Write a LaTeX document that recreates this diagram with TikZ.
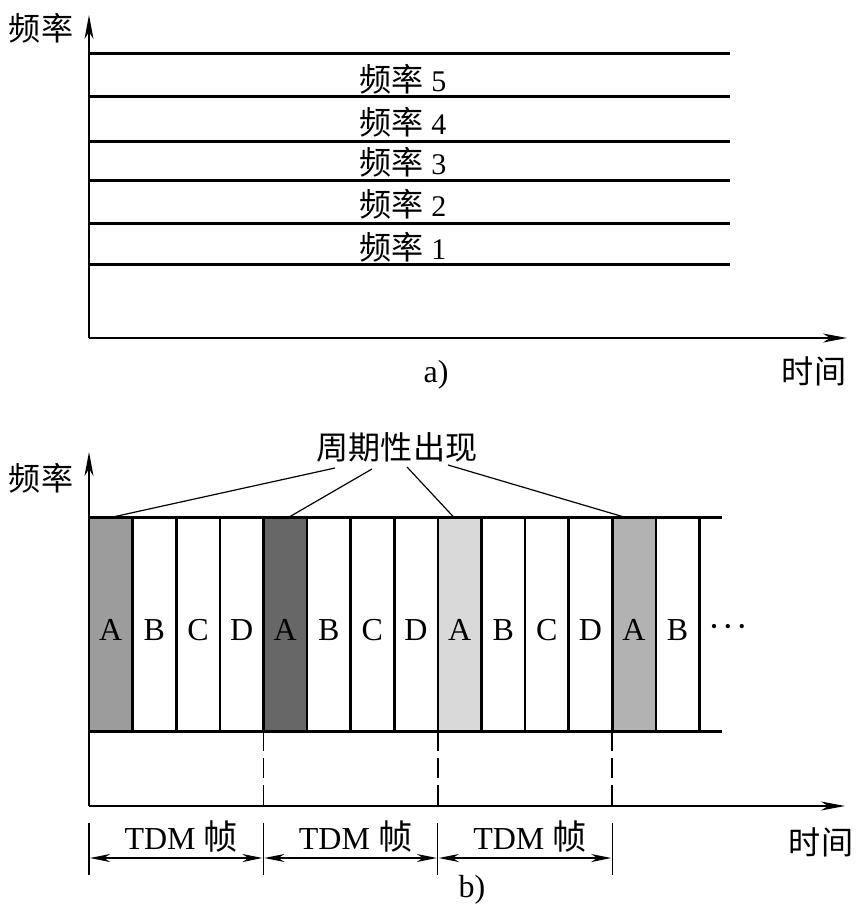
\documentclass[tikz,border=0pt]{standalone}
\usepackage{fontspec}
\setmainfont{Liberation Serif}
\newfontfamily\cjk{Noto Sans CJK SC}[Scale=1.07]
\usetikzlibrary{arrows.meta,calc}
\definecolor{gA}{HTML}{9C9C9C}
\definecolor{gB}{HTML}{676767}
\definecolor{gC}{HTML}{D9D9D9}
\definecolor{gD}{HTML}{B2B2B2}
\begin{document}
\begin{tikzpicture}[x=1pt,y=-1pt,
  every node/.style={inner sep=0pt,outer sep=0pt,font=\fontsize{30}{36}\selectfont},
  bigtext/.style={font=\fontsize{32}{38}\selectfont},
  bandline/.style={line width=3pt},
  sepline/.style={line width=2.6pt},
  axisline/.style={line width=1.4pt,-{Stealth[length=24pt,width=9pt,inset=7pt]}},
  dimarrow/.style={line width=1.4pt,{Stealth[length=20pt,width=8pt,inset=6pt]}-{Stealth[length=20pt,width=8pt,inset=6pt]}},
  tickline/.style={line width=1.2pt},
  callout/.style={line width=1.2pt},
  dashsep/.style={line width=1.6pt,dash pattern=on 20pt off 7pt},
  slot/.style={minimum width=43.6pt,minimum height=214pt,draw=none},
]
\useasboundingbox (0,0) rectangle (867,921);

% ---------- part a ----------
\coordinate (aO) at (89,338);
\coordinate (aY) at (89,15);
\coordinate (aX) at (847,338);
\draw[axisline] (aO) -- (aY);
\draw[axisline] (aO) -- (aX);
\foreach \y [count=\i] in {53,96,141,180,223,264} {
  \coordinate (L\i) at (89,\y);
  \coordinate (R\i) at (730,\y);
  \draw[bandline] (L\i) -- (R\i);
}
\node (f5) at (403,79)  {{\cjk 频率} 5};
\node (f4) at (403,122) {{\cjk 频率} 4};
\node (f3) at (403,162) {{\cjk 频率} 3};
\node (f2) at (403,204) {{\cjk 频率} 2};
\node (f1) at (403,247) {{\cjk 频率} 1};
\node (ya) at (41,28) {\cjk 频率};
\node (xa) at (814,371) {\cjk 时间};
\node[bigtext] (capa) at (436,375) {a)};

% ---------- part b ----------
\coordinate (bO) at (89,806);
\coordinate (bY) at (89,452);
\coordinate (bX) at (845,806);

\foreach \l/\c [count=\i from 0] in {A/gA,B/white,C/white,D/white,A/gB,B/white,C/white,D/white,A/gC,B/white,C/white,D/white,A/gD,B/white} {
  \node[slot,fill=\c] (s\i) at ({89+43.6*(\i+0.5)},624) {};
  \node[bigtext] (t\i) at ([yshift=-6pt]s\i.center) {\l};
}
\foreach \i in {0,...,13} {
  \draw[sepline] (s\i.north east) -- (s\i.south east);
}
\coordinate (bTL) at (89,517);
\coordinate (bTR) at (722,517);
\coordinate (bBL) at (89,731);
\coordinate (bBR) at (722,731);
\draw[bandline] (bTL) -- (bTR);
\draw[bandline] (bBL) -- (bBR);
\node (dots) at (728,631) {\fontsize{36}{40}\selectfont\textperiodcentered\kern2pt\textperiodcentered\kern2pt\textperiodcentered};

\draw[axisline] (bO) -- (bY);
\draw[axisline] (bO) -- (bX);
\node (yb) at (41,478) {\cjk 频率};
\node (xb) at (821,842) {\cjk 时间};
\node[bigtext] (capb) at (472,890) {b)};

% callout
\node (cal) at (397,447) {\cjk 周期性出现};
\coordinate (c1) at (335,468);
\coordinate (c2) at (372,469);
\coordinate (c3) at (407,467);
\coordinate (c4) at (448,465);
\draw[callout] (c1) -- ([xshift=2pt]s0.north);
\draw[callout] (c2) -- ([xshift=4pt]s4.north);
\draw[callout] (c3) -- ([xshift=-6pt]s8.north);
\draw[callout] (c4) -- ([xshift=-10pt]s12.north);

% dashed frame boundaries
\foreach \i in {3,7,11} {
  \draw[dashsep] (s\i.south east) -- (s\i.south east |- bO);
}

% frame ticks and dimension arrows
\coordinate (k0) at (89,823);  \coordinate (m0) at (89,875);
\coordinate (k1) at (s3.south east |- k0);  \coordinate (m1) at (s3.south east |- m0);
\coordinate (k2) at (s7.south east |- k0);  \coordinate (m2) at (s7.south east |- m0);
\coordinate (k3) at (s11.south east |- k0); \coordinate (m3) at (s11.south east |- m0);
\foreach \i in {0,...,3} { \draw[tickline] (k\i) -- (m\i); }
\foreach \i/\j in {0/1,1/2,2/3} {
  \coordinate (a\i) at ([xshift=1pt]k\i |- 0,858);
  \coordinate (b\i) at ([xshift=-1pt]k\j |- 0,858);
  \draw[dimarrow] (a\i) -- (b\i);
  \node[bigtext] (tdm\i) at ($(a\i)!0.5!(b\i)+(5,-21)$) {TDM {\cjk 帧}};
}
\end{tikzpicture}
\end{document}
